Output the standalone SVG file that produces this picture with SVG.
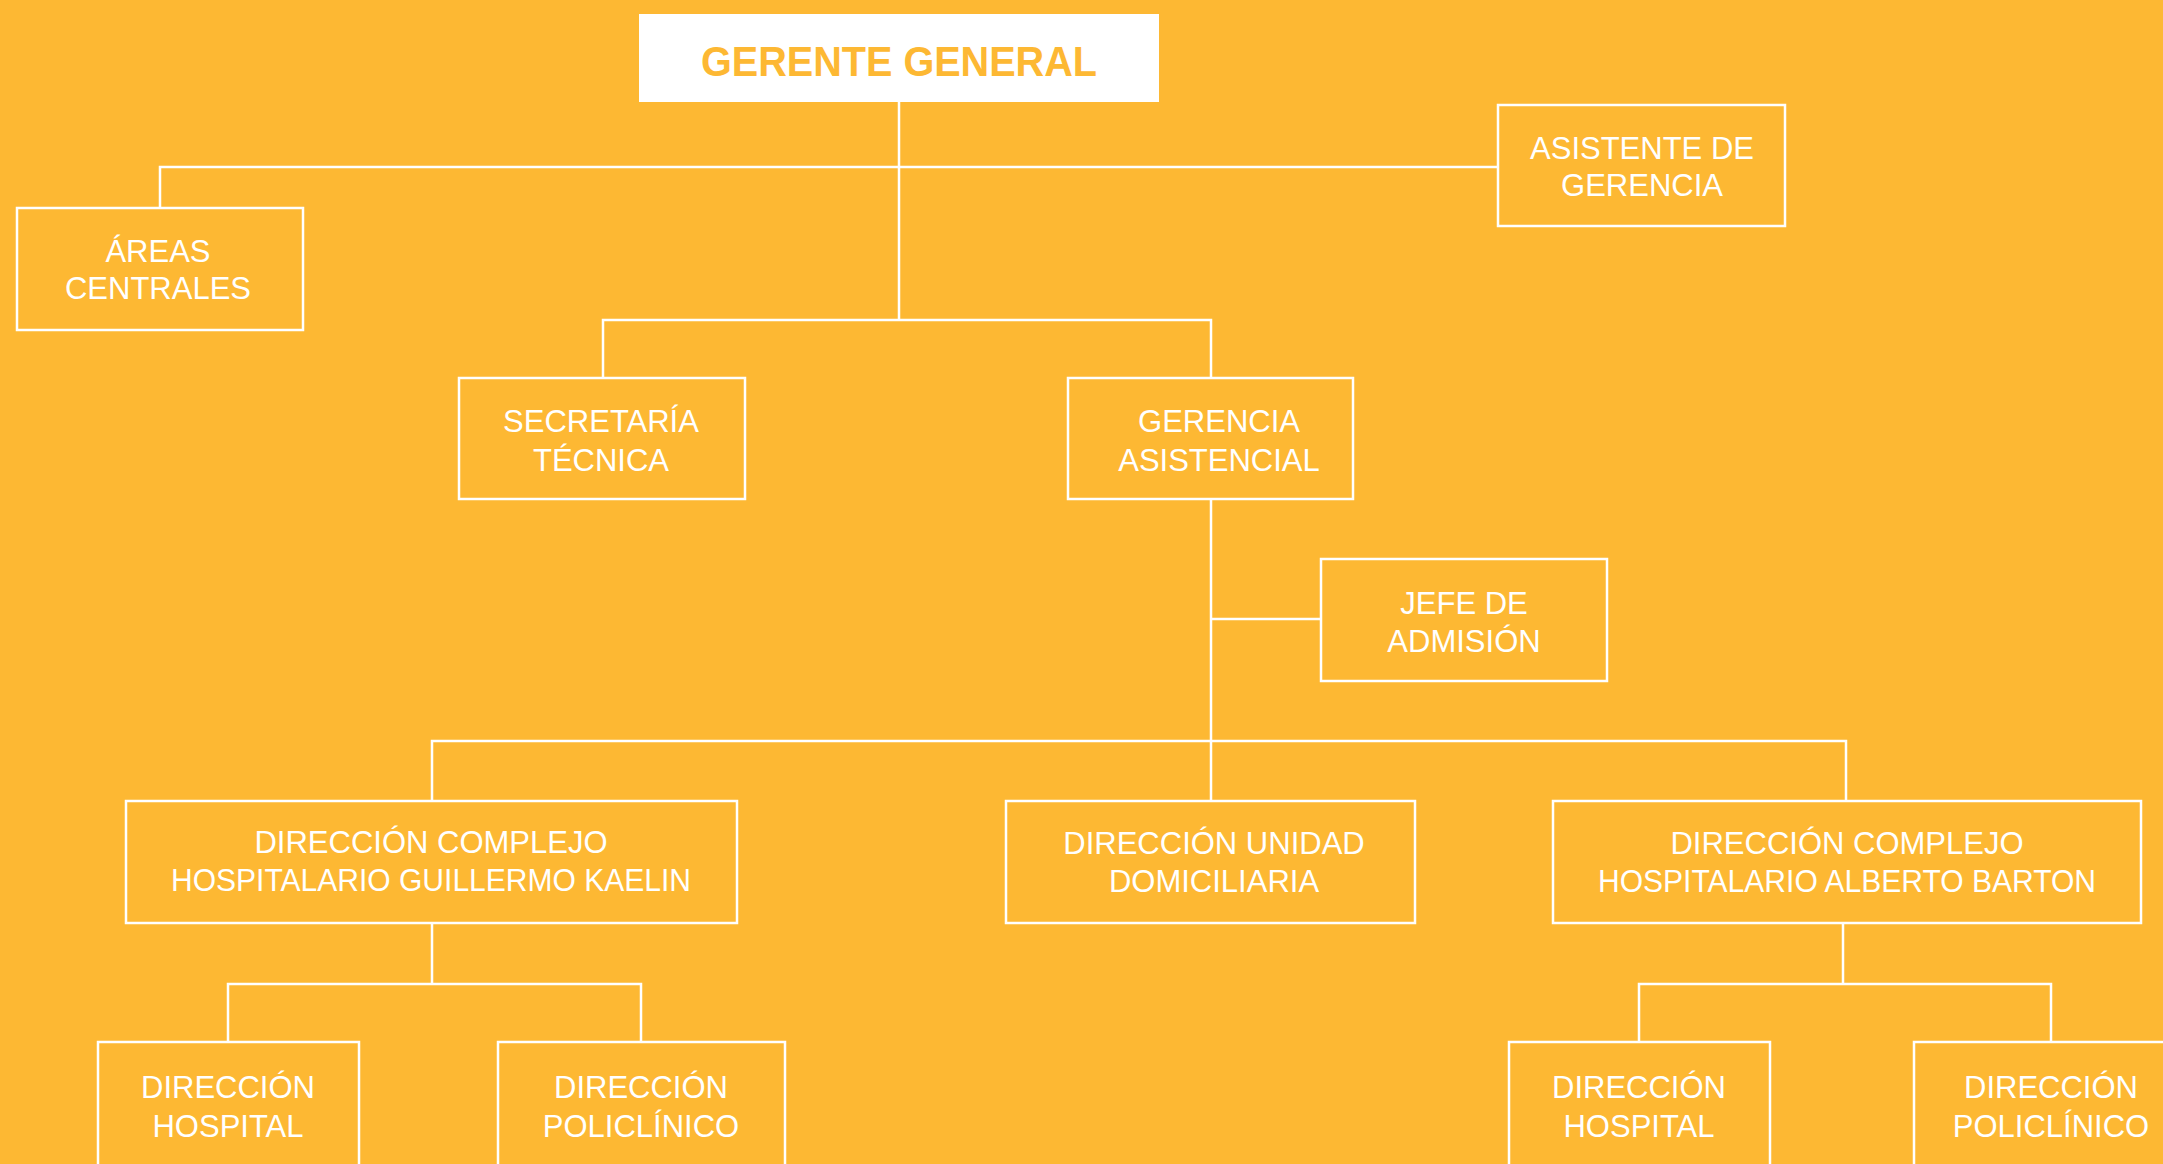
<svg xmlns="http://www.w3.org/2000/svg" width="2163" height="1164" viewBox="0 0 2163 1164">
<style>
.bg{fill:#FDB833}
.box{fill:none;stroke:#FFFFFF;stroke-width:2.5}
.t{font-family:"Liberation Sans",Arial,sans-serif;font-size:31px;fill:#FFFFFF;text-anchor:middle}
.title{font-family:"Liberation Sans",Arial,sans-serif;font-size:43px;font-weight:bold;fill:#FDB833;text-anchor:middle}
.c{fill:none;stroke:#FFFFFF;stroke-width:2.5}
</style>
<rect class="bg" x="0" y="0" width="2163" height="1164"/>
<g id="connectors">
<path class="c" d="M899,102V320M160,208V167H1498M603,378V320H1211V378M1211,499V801M1211,619H1321M432,801V741H1846V801M432,923V984M228,1042V984H641V1042M1843,923V984M1639,1042V984H2051V1042"/>
</g>
<g id="gerente-general">
<rect x="639" y="14" width="520" height="88" fill="#FFFFFF"/>
<text class="title" x="899" y="76" textLength="396" lengthAdjust="spacingAndGlyphs">GERENTE GENERAL</text>
</g>
<g id="areas-centrales">
<rect class="box" x="17" y="208" width="286" height="122"/>
<text class="t" x="158" y="262">ÁREAS</text>
<text class="t" x="158" y="299">CENTRALES</text>
</g>
<g id="asistente-gerencia">
<rect class="box" x="1498" y="105" width="287" height="121"/>
<text class="t" x="1642" y="159">ASISTENTE DE</text>
<text class="t" x="1642" y="196">GERENCIA</text>
</g>
<g id="secretaria-tecnica">
<rect class="box" x="459" y="378" width="286" height="121"/>
<text class="t" x="601" y="432">SECRETARÍA</text>
<text class="t" x="601" y="471">TÉCNICA</text>
</g>
<g id="gerencia-asistencial">
<rect class="box" x="1068" y="378" width="285" height="121"/>
<text class="t" x="1219" y="432">GERENCIA</text>
<text class="t" x="1219" y="471">ASISTENCIAL</text>
</g>
<g id="jefe-admision">
<rect class="box" x="1321" y="559" width="286" height="122"/>
<text class="t" x="1464" y="614">JEFE DE</text>
<text class="t" x="1464" y="652">ADMISIÓN</text>
</g>
<g id="dir-complejo-kaelin">
<rect class="box" x="126" y="801" width="611" height="122"/>
<text class="t" x="431" y="853">DIRECCIÓN COMPLEJO</text>
<text class="t" x="431" y="891" textLength="520" lengthAdjust="spacingAndGlyphs">HOSPITALARIO GUILLERMO KAELIN</text>
</g>
<g id="dir-unidad-domiciliaria">
<rect class="box" x="1006" y="801" width="409" height="122"/>
<text class="t" x="1214" y="854">DIRECCIÓN UNIDAD</text>
<text class="t" x="1214" y="892">DOMICILIARIA</text>
</g>
<g id="dir-complejo-barton">
<rect class="box" x="1553" y="801" width="588" height="122"/>
<text class="t" x="1847" y="854">DIRECCIÓN COMPLEJO</text>
<text class="t" x="1847" y="892" textLength="498" lengthAdjust="spacingAndGlyphs">HOSPITALARIO ALBERTO BARTON</text>
</g>
<g id="dir-hospital-1">
<rect class="box" x="98" y="1042" width="261" height="130"/>
<text class="t" x="228" y="1098">DIRECCIÓN</text>
<text class="t" x="228" y="1137">HOSPITAL</text>
</g>
<g id="dir-policlinico-1">
<rect class="box" x="498" y="1042" width="287" height="130"/>
<text class="t" x="641" y="1098">DIRECCIÓN</text>
<text class="t" x="641" y="1137">POLICLÍNICO</text>
</g>
<g id="dir-hospital-2">
<rect class="box" x="1509" y="1042" width="261" height="130"/>
<text class="t" x="1639" y="1098">DIRECCIÓN</text>
<text class="t" x="1639" y="1137">HOSPITAL</text>
</g>
<g id="dir-policlinico-2">
<rect class="box" x="1914" y="1042" width="276" height="130"/>
<text class="t" x="2051" y="1098">DIRECCIÓN</text>
<text class="t" x="2051" y="1137">POLICLÍNICO</text>
</g>
</svg>
